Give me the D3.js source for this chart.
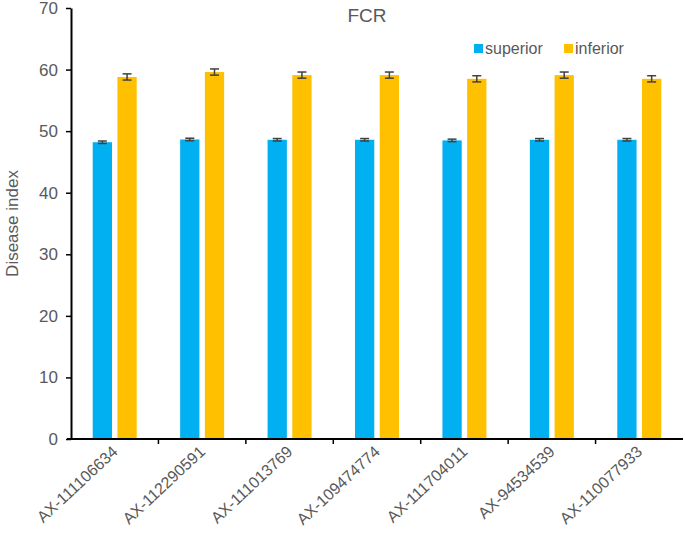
<!DOCTYPE html>
<html>
<head>
<meta charset="utf-8">
<script src="https://cdn.jsdelivr.net/npm/d3@7"></script>
<style>
  body { margin: 0; background: #fff; }
  text { font-family: Arial, "Liberation Sans", sans-serif; }
</style>
</head>
<body>
<svg id="chart" width="685" height="542"></svg>
<script>
var markers = ["AX-111106634", "AX-112290591", "AX-111013769", "AX-109474774", "AX-111704011", "AX-94534539", "AX-110077933"];
var superior = [48.2, 48.65, 48.6, 48.6, 48.5, 48.6, 48.6];
var superior_err = [0.2, 0.2, 0.2, 0.2, 0.2, 0.2, 0.2];
var inferior = [58.8, 59.6, 59.1, 59.1, 58.5, 59.1, 58.5];
var inferior_err = [0.5, 0.5, 0.5, 0.5, 0.5, 0.5, 0.5];
var series = ["superior", "inferior"];
var colors = ["#00b0f0", "#ffc000"];
var yTicks = [0, 10, 20, 30, 40, 50, 60, 70];

var margin = {left: 71, top: 8, right: 2, bottom: 103};
var width = 685 - margin.left - margin.right;
var height = 542 - margin.top - margin.bottom;

var svg = d3.select("#chart");
var g = svg.append("g").attr("transform", "translate(" + margin.left + "," + margin.top + ")");

var x = d3.scaleBand().domain(markers).range([0, width]);
var xSub = d3.scaleBand().domain(series).range([x.bandwidth() / 2 - 22, x.bandwidth() / 2 + 22]).paddingInner(0.22);
var y = d3.scaleLinear().domain([0, 70]).range([height, 0]);

var rows = markers.map(function(m, i) {
  return [
    {name: m, s: 0, v: superior[i], e: superior_err[i]},
    {name: m, s: 1, v: inferior[i], e: inferior_err[i]}
  ];
});

var groups = g.selectAll(".grp")
  .data(rows)
  .enter()
  .append("g")
    .attr("transform", function(d) { return "translate(" + x(d[0].name) + ",0)"; });

groups.selectAll("rect")
  .data(function(d) { return d; })
  .enter()
  .append("rect")
    .attr("x", function(d) { return xSub(series[d.s]); })
    .attr("width", xSub.bandwidth())
    .attr("y", function(d) { return y(d.v); })
    .attr("height", function(d) { return y(0) - y(d.v); })
    .attr("fill", function(d) { return colors[d.s]; });

// error bars
var err = groups.selectAll(".err")
  .data(function(d) { return d; })
  .enter()
  .append("g")
    .attr("stroke", "#404040")
    .attr("stroke-width", 1.5);
err.append("line")
  .attr("x1", function(d) { return xSub(series[d.s]) + xSub.bandwidth() / 2; })
  .attr("x2", function(d) { return xSub(series[d.s]) + xSub.bandwidth() / 2; })
  .attr("y1", function(d) { return y(d.v + d.e); })
  .attr("y2", function(d) { return y(d.v - d.e); });
[1, -1].forEach(function(sgn) {
  err.append("line")
    .attr("x1", function(d) { return xSub(series[d.s]) + xSub.bandwidth() / 2 - 4.5; })
    .attr("x2", function(d) { return xSub(series[d.s]) + xSub.bandwidth() / 2 + 4.5; })
    .attr("y1", function(d) { return y(d.v + sgn * d.e); })
    .attr("y2", function(d) { return y(d.v + sgn * d.e); });
});

// y axis
var yAxis = g.append("g")
  .call(d3.axisLeft(y).tickValues(yTicks).tickSize(5).tickSizeOuter(0).tickPadding(8));
yAxis.select(".domain").attr("stroke", "#000").attr("stroke-width", 2);
yAxis.selectAll(".tick line").attr("stroke", "#000").attr("stroke-width", 1.5);
yAxis.selectAll("text").attr("font-size", 17).attr("fill", "#595959");

// x axis with ticks at band boundaries
var xAxis = g.append("g").attr("transform", "translate(0," + height + ")");
xAxis.append("line")
  .attr("x1", -4).attr("x2", width)
  .attr("stroke", "#000").attr("stroke-width", 2);
xAxis.selectAll(".xt")
  .data(markers.slice(1))
  .enter()
  .append("line")
    .attr("x1", function(d) { return x(d); })
    .attr("x2", function(d) { return x(d); })
    .attr("y1", 0).attr("y2", 5)
    .attr("stroke", "#000").attr("stroke-width", 1.5);
xAxis.selectAll(".xl")
  .data(markers)
  .enter()
  .append("text")
    .attr("transform", function(d) { return "translate(" + (x(d) + x.bandwidth() / 2 + 4) + ",14) rotate(-43)"; })
    .attr("text-anchor", "end")
    .attr("font-size", 16)
    .attr("fill", "#595959")
    .text(function(d) { return d; });

// y label
svg.append("text")
  .attr("transform", "translate(18," + (margin.top + height / 2) + ") rotate(-90)")
  .attr("text-anchor", "middle")
  .attr("font-size", 17)
  .attr("fill", "#595959")
  .text("Disease index");

// title
svg.append("text")
  .attr("x", 367).attr("y", 22)
  .attr("text-anchor", "middle")
  .attr("font-size", 19)
  .attr("fill", "#595959")
  .text("FCR");

// legend
var legend = svg.selectAll(".leg")
  .data(series)
  .enter()
  .append("g")
    .attr("transform", function(d, i) { return "translate(" + (474 + i * 90) + ",44)"; });
legend.append("rect")
  .attr("width", 9).attr("height", 9)
  .attr("fill", function(d, i) { return colors[i]; });
legend.append("text")
  .attr("x", 11).attr("y", 10)
  .attr("font-size", 16)
  .attr("fill", "#595959")
  .text(function(d) { return d; });
</script>
</body>
</html>
